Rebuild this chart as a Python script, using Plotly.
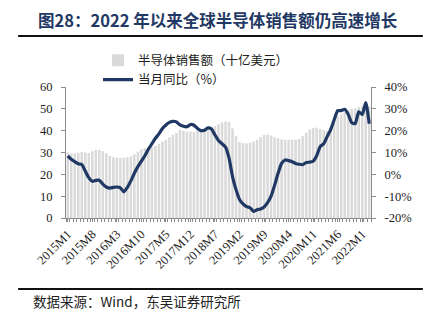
import plotly.graph_objects as go

# Monthly periods, 2015M1 .. 2022M3
months = [f"{y}M{m}" for y in range(2015, 2023) for m in range(1, 13)][:87]

# Global semiconductor sales (USD bn)
sales = [
    30.0, 29.6, 29.6, 29.8, 30.2, 30.0, 29.8, 30.6, 31.2, 31.2, 30.6, 29.6,
    28.5, 27.8, 27.6, 27.5, 27.6, 27.8, 28.2, 29.2, 30.4, 31.5, 32.0, 32.5,
    32.5, 33.0, 34.0, 35.0, 35.8, 37.0, 38.0, 39.0, 40.3, 40.0, 39.5, 39.5,
    39.5, 39.8, 40.0, 40.2, 40.8, 41.5, 42.0, 43.0, 43.8, 44.2, 44.0, 41.0,
    37.5, 34.8, 34.3, 34.2, 34.5, 35.0, 35.8, 37.0, 38.0, 38.2, 37.8, 37.0,
    36.5, 36.0, 35.8, 35.8, 35.9, 35.8, 36.2, 37.5, 39.0, 40.5, 41.2, 41.4,
    40.8, 40.2, 40.0, 41.5, 44.0, 46.5, 47.5, 48.5, 49.5, 50.0, 50.2, 50.8,
    51.2, 51.5, 51.0,
]

# Year-on-year growth (%)
yoy = [
    8.4, 6.9, 5.8, 4.8, 4.5, 1.5, -1.5, -3.2, -2.8, -2.7, -4.5, -5.8,
    -6.3, -6.0, -5.8, -6.2, -8.0, -6.0, -3.0, 0.5, 3.5, 6.0, 8.5, 11.5,
    14.0, 16.5, 18.5, 21.0, 22.6, 23.8, 24.3, 24.0, 22.6, 22.0, 21.8, 22.8,
    22.5, 21.0, 20.0, 20.2, 21.3, 20.8, 18.0, 15.5, 14.0, 12.5, 7.5, -1.0,
    -7.0, -11.5, -13.5, -14.8, -15.3, -17.0, -16.2, -15.9, -15.0, -13.0, -10.0, -5.0,
    0.5, 5.0, 6.6, 6.3, 5.8, 5.0, 4.6, 4.4, 5.4, 5.6, 6.0, 8.5,
    12.7, 14.0, 17.3, 20.5, 25.0, 29.2, 29.2, 29.8, 27.5, 23.6, 23.2, 28.6,
    27.4, 32.9, 23.2,
]

left_ticks = [0, 10, 20, 30, 40, 50, 60]
right_ticks = [-20, -10, 0, 10, 20, 30, 40]
label_step = 7

idx = list(range(len(months)))
navy = "#1F3864"
axis_grey = "#8C8C8C"
num_font = "Liberation Serif, Times New Roman, serif"
cjk_font = "Noto Sans CJK SC, sans-serif"

fig = go.Figure()
fig.add_trace(go.Bar(
    x=idx, y=sales, name="半导体销售额（十亿美元）",
    marker=dict(color="#DADADA", line=dict(width=0)),
    yaxis="y",
))
fig.add_trace(go.Scatter(
    x=idx, y=yoy, name="当月同比（%）", mode="lines",
    line=dict(color=navy, width=3.2, shape="spline", smoothing=0.5),
    yaxis="y2",
))

fig.update_layout(
    width=430, height=328,
    margin=dict(l=66, r=59, t=87, b=110),
    paper_bgcolor="white", plot_bgcolor="white",
    bargap=0.28,
    showlegend=True,
    legend=dict(
        x=0.105, y=1.315, xanchor="left", yanchor="top",
        font=dict(family=cjk_font, size=12.5, color="#222"),
        bgcolor="rgba(0,0,0,0)", tracegroupgap=0, itemwidth=30,
    ),
    xaxis=dict(
        range=[-0.5, len(months) - 0.5],
        tickmode="array",
        tickvals=idx[::label_step],
        ticktext=months[::label_step],
        tickangle=-45,
        tickfont=dict(family=num_font, size=12.5, color="#222"),
        showline=True, linecolor=axis_grey, linewidth=1,
        ticks="outside", ticklen=3, tickcolor=axis_grey,
        minor=dict(dtick=1, tick0=0.5, ticks="outside", ticklen=3, tickcolor=axis_grey),
        showgrid=False, zeroline=False,
    ),
    yaxis=dict(
        range=[0, 60], tickvals=left_ticks,
        tickfont=dict(family=num_font, size=12.5, color="#222"),
        showline=True, linecolor=axis_grey, linewidth=1,
        ticks="outside", ticklen=4, tickcolor=axis_grey,
        ticklabelstandoff=6,
        showgrid=False, zeroline=False,
    ),
    yaxis2=dict(
        range=[-20, 40], tickvals=right_ticks,
        ticktext=[f"{v}%" for v in right_ticks],
        overlaying="y", side="right",
        tickfont=dict(family=num_font, size=12.5, color="#222"),
        showline=True, linecolor=axis_grey, linewidth=1,
        ticks="outside", ticklen=4, tickcolor=axis_grey,
        ticklabelstandoff=6,
        showgrid=False, zeroline=False,
    ),
)

# Heading, rules and source note
fig.add_annotation(
    text="<b>图28：2022 年以来全球半导体销售额仍高速增长</b>",
    xref="paper", yref="paper", x=-0.10, y=1.51,
    xanchor="left", yanchor="middle", showarrow=False,
    font=dict(family=cjk_font, size=16.5, color=navy),
)
fig.add_shape(type="line", xref="paper", yref="paper",
              x0=-0.157, x1=1.17, y0=1.389, y1=1.389,
              line=dict(color="#111", width=2))
fig.add_shape(type="line", xref="paper", yref="paper",
              x0=-0.157, x1=1.17, y0=-0.542, y1=-0.542,
              line=dict(color="#111", width=2))
fig.add_annotation(
    text="数据来源：Wind，东吴证券研究所",
    xref="paper", yref="paper", x=-0.115, y=-0.63,
    xanchor="left", yanchor="middle", showarrow=False,
    font=dict(family=cjk_font, size=13.5, color="#222"),
)

fig.write_html("out.html")
